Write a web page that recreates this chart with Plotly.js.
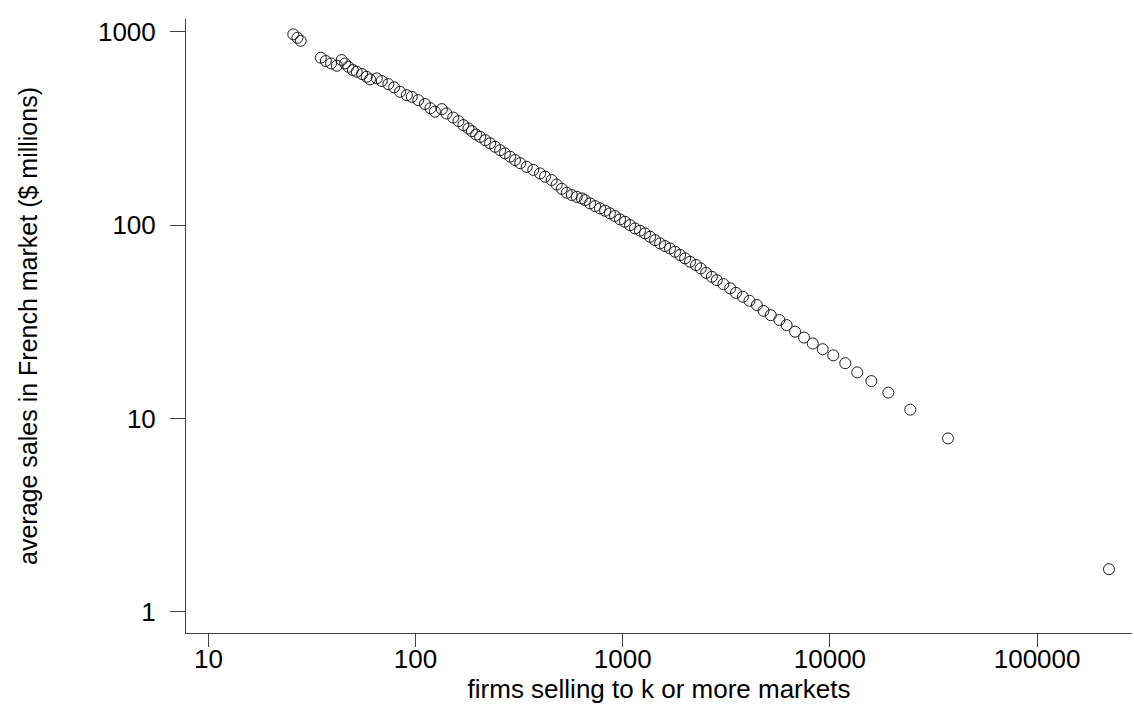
<!DOCTYPE html>
<html>
<head>
<meta charset="utf-8">
<script src="https://cdn.plot.ly/plotly-3.0.1.min.js"></script>
<style>html,body{margin:0;padding:0;background:#fff;}#chart{width:1134px;height:704px;}</style>
</head>
<body>
<div id="chart"></div>
<script>
// firms selling to k or more markets (x) and their average sales in the French market, $ millions (y)
const firms = [
  25.7, 26.9, 27.9, 34.9, 36.9, 39.1, 41.7, 44.0, 45.7, 47.4,
  49.8, 52.0, 55.2, 58.1, 60.3, 65.0, 68.7, 73.9, 78.8, 84.2,
  90.7, 95.9, 103, 111, 118, 124, 134, 141, 152, 161,
  170, 180, 187, 196, 205, 217, 229, 242, 256, 270,
  286, 302, 320, 344, 370, 399, 422, 454, 480, 508,
  537, 568, 600, 634, 658, 695, 735, 777, 822, 867,
  917, 970, 1025, 1084, 1146, 1211, 1281, 1355, 1432, 1514,
  1600, 1690, 1788, 1892, 2000, 2113, 2258, 2378, 2525, 2692,
  2845, 3060, 3300, 3520, 3800, 4090, 4440, 4780, 5180, 5700,
  6180, 6790, 7500, 8260, 9230, 10380, 11860, 13550, 15850, 19140,
  24430, 37150, 222300
];
const avgSales = [
  970, 931, 898, 734, 706, 686, 667, 714, 686, 659,
  634, 621, 604, 585, 567, 574, 556, 536, 516, 489,
  470, 461, 443, 423, 402, 386, 398, 378, 360, 345,
  329, 316, 306, 294, 286, 275, 265, 254, 244, 235,
  226, 217, 209, 200, 193, 185, 178, 171, 162, 154,
  147, 143, 140, 137.5, 134.7, 129.5, 125.4, 122, 118.6, 115,
  111.4, 107, 104, 100, 96.1, 93.5, 90.6, 87.0, 83.6, 80.4,
  77.9, 75.7, 72.8, 70.0, 67.3, 64.6, 62.1, 59.7, 56.6, 54.0,
  51.9, 49.5, 47.1, 44.6, 42.6, 40.6, 38.6, 36.0, 34.2, 32.3,
  30.4, 28.1, 26.2, 24.4, 22.8, 21.2, 19.3, 17.3, 15.6, 13.6,
  11.1, 7.88, 1.66
];
const xTicks = [10, 100, 1000, 10000, 100000];
const xTickText = ['10', '100', '1000', '10000', '100000'];
const yTicks = [1, 10, 100, 1000];
const yTickText = ['1', '10', '100', '1000'];

const font = 'Liberation Sans, Arial, Helvetica, sans-serif';
const fs = 26;

const trace = {
  x: firms,
  y: avgSales,
  type: 'scatter',
  mode: 'markers',
  marker: {symbol: 'circle-open', size: 11, color: '#1a1a1a', line: {width: 1, color: '#1a1a1a'}},
  hoverinfo: 'x+y'
};

const layout = {
  width: 1134,
  height: 704,
  paper_bgcolor: '#ffffff',
  plot_bgcolor: '#ffffff',
  showlegend: false,
  margin: {l: 186, r: 2, t: 19, b: 71, pad: 0},
  font: {family: font, size: fs, color: '#000'},
  xaxis: {
    type: 'log',
    range: [0.892, 5.458],
    tickmode: 'array',
    tickvals: xTicks,
    ticktext: xTickText,
    showgrid: false,
    zeroline: false,
    showline: true,
    linecolor: '#404040',
    linewidth: 1,
    ticks: 'outside',
    ticklen: 13,
    tickwidth: 1,
    tickcolor: '#404040',
    ticklabelstandoff: -10,
    tickfont: {family: font, size: fs, color: '#000'},
    title: {text: 'firms selling to k or more markets', font: {family: font, size: fs, color: '#000'}, standoff: 0},
    automargin: false
  },
  yaxis: {
    type: 'log',
    range: [-0.110, 3.066],
    tickmode: 'array',
    tickvals: yTicks,
    ticktext: yTickText,
    showgrid: false,
    zeroline: false,
    showline: true,
    linecolor: '#404040',
    linewidth: 1,
    ticks: 'outside',
    ticklen: 15,
    tickwidth: 1,
    tickcolor: '#404040',
    ticklabelstandoff: 9,
    tickfont: {family: font, size: fs, color: '#000'},
    title: {text: 'average sales in French market ($ millions)', font: {family: font, size: 25, color: '#000'}, standoff: 53},
    automargin: false
  }
};

Plotly.newPlot('chart', [trace], layout, {staticPlot: true, displayModeBar: false});
</script>
</body>
</html>
